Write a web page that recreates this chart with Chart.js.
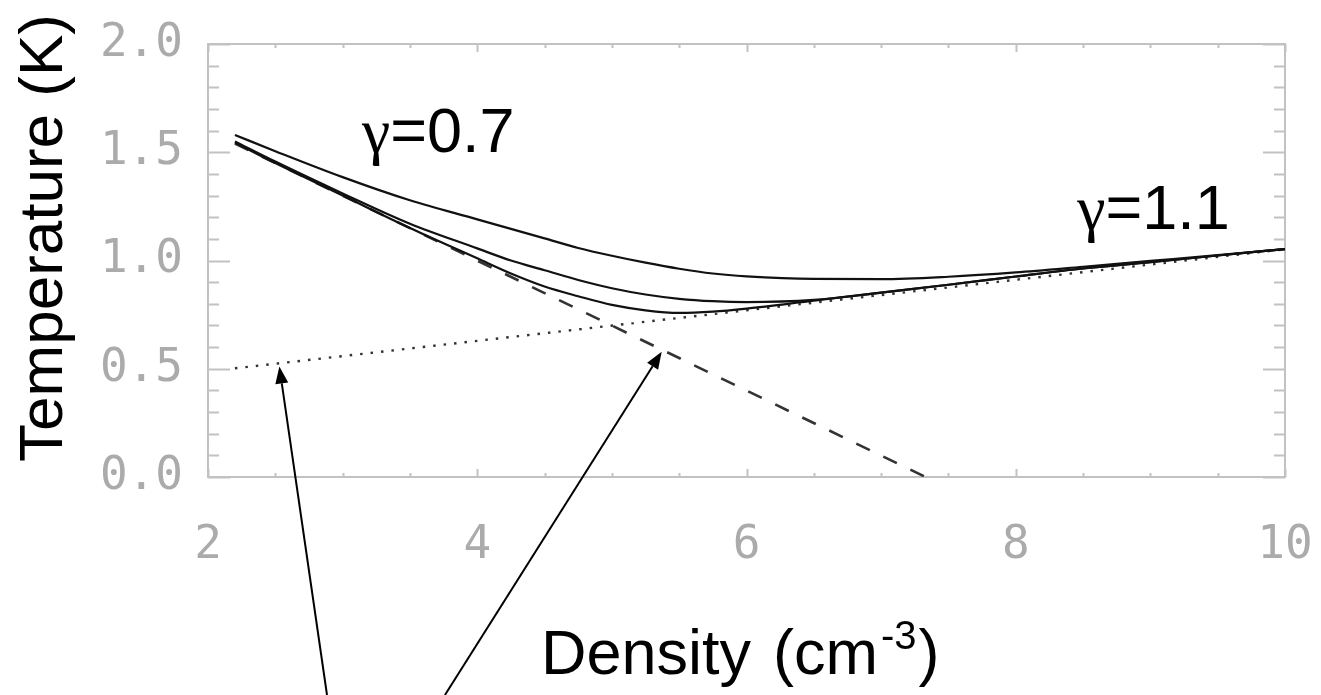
<!DOCTYPE html>
<html>
<head>
<meta charset="utf-8">
<script src="https://cdn.jsdelivr.net/npm/chart.js@4.4.0/dist/chart.umd.min.js"></script>
<style>
html, body { margin: 0; padding: 0; background: #fff; }
canvas { display: block; }
</style>
</head>
<body>
<canvas id="chart" width="1321" height="695"></canvas>
<script>
// ── data ───────────────────────────────────────────────────────────────────
const density = [2.2, 2.5, 3.0, 3.5, 4.0, 4.25, 4.5, 4.75, 5.0, 5.25, 5.5, 5.75, 6.0, 6.5, 7.0, 7.5, 8.0, 8.5, 9.0, 9.5, 10.0];
const tempUpper = [1.58, 1.505, 1.385, 1.278, 1.19, 1.146, 1.102, 1.058, 1.022, 0.99, 0.962, 0.94, 0.927, 0.915, 0.914, 0.925, 0.945, 0.971, 0.998, 1.025, 1.053];
const tempMiddle = [1.55, 1.457, 1.31, 1.17, 1.056, 1.0, 0.955, 0.91, 0.872, 0.843, 0.823, 0.812, 0.808, 0.818, 0.852, 0.888, 0.926, 0.963, 0.992, 1.023, 1.053];
const tempLower = [1.545, 1.45, 1.30, 1.15, 1.01, 0.94, 0.88, 0.835, 0.795, 0.77, 0.758, 0.764, 0.778, 0.815, 0.852, 0.888, 0.926, 0.963, 0.992, 1.023, 1.053];

// asymptotes: dotted (gamma = 1.1 branch) and dashed (gamma = 0.7 branch)
const dottedX = [2.2, 10.0];
const dottedT = [0.502, 1.052];
const dashedX = [2.2, 7.33];
const dashedT = [1.54, 0.0];

const xTickValues = [2, 4, 6, 8, 10];
const yTickValues = [0, 0.5, 1.0, 1.5, 2.0];
const yTickLabels = ['0.0', '0.5', '1.0', '1.5', '2.0'];

const xTitleParts = ['Density', '(cm', '-3', ')'];
const yTitle = 'Temperature (K)';
const gammaLow = '=0.7';
const gammaHigh = '=1.1';

// arrow tips / tails in data units (tails run off the bottom of the page)
const arrowTips = [[2.53, 0.51], [5.37, 0.578]];
const arrowTails = [[2.884, -1.007], [3.76, -1.007]];

const pts = (xs, ys) => xs.map((x, i) => ({ x: x, y: ys[i] }));

// ── frame with inward ticks (IDL look) ──────────────────────────────────────
const framePlugin = {
    id: 'frame',
    beforeDatasetsDraw(chart) {
        const { ctx, chartArea: a, scales } = chart;
        const sx = scales.x, sy = scales.y;
        ctx.save();
        ctx.strokeStyle = '#c2c2c2';
        ctx.lineWidth = 2;
        ctx.strokeRect(a.left, a.top, a.right - a.left, a.bottom - a.top);
        ctx.beginPath();
        for (let i = 0; i <= 20; i++) {
            const py = Math.round(sy.getPixelForValue(i / 10)) + 0.5;
            const len = i % 5 === 0 ? 22 : 11;
            ctx.moveTo(a.left, py); ctx.lineTo(a.left + len, py);
            ctx.moveTo(a.right, py); ctx.lineTo(a.right - len, py);
        }
        for (let i = 0; i <= 16; i++) {
            const px = Math.round(sx.getPixelForValue(2 + i * 0.5)) + 0.5;
            const len = i % 4 === 0 ? 8 : 4;
            ctx.moveTo(px, a.bottom); ctx.lineTo(px, a.bottom - len);
            ctx.moveTo(px, a.top); ctx.lineTo(px, a.top + len);
        }
        ctx.stroke();
        ctx.restore();
    },
};

// ── titles, gamma labels, arrows ───────────────────────────────────────────
function drawArrow(ctx, x0, y0, x1, y1) {
    const ang = Math.atan2(y1 - y0, x1 - x0);
    const hl = 17, hw = 6.5;
    const bx = x1 - hl * Math.cos(ang), by = y1 - hl * Math.sin(ang);
    ctx.beginPath();
    ctx.moveTo(x0, y0);
    ctx.lineTo(bx, by);
    ctx.stroke();
    ctx.beginPath();
    ctx.moveTo(x1, y1);
    ctx.lineTo(bx + hw * Math.sin(ang), by - hw * Math.cos(ang));
    ctx.lineTo(bx - hw * Math.sin(ang), by + hw * Math.cos(ang));
    ctx.closePath();
    ctx.fill();
}

function drawGamma(ctx, px, py, rest) {
    ctx.font = '64px "Liberation Serif"';
    ctx.fillText('γ', px, py);
    const w = ctx.measureText('γ').width;
    ctx.font = '63px "Liberation Sans"';
    ctx.fillText(rest, px + w, py);
}

const labelPlugin = {
    id: 'labels',
    afterDraw(chart) {
        const { ctx, scales } = chart;
        const sx = scales.x, sy = scales.y;
        ctx.save();
        ctx.fillStyle = '#000';
        ctx.strokeStyle = '#000';
        ctx.textBaseline = 'alphabetic';
        ctx.textAlign = 'left';

        drawGamma(ctx, sx.getPixelForValue(3.144), sy.getPixelForValue(1.501), gammaLow);
        drawGamma(ctx, sx.getPixelForValue(8.456), sy.getPixelForValue(1.146), gammaHigh);

        // x title with superscript, laid out left to right
        const ty = 674;
        let cx = 541;
        ctx.font = '63px "Liberation Sans"';
        ctx.fillText(xTitleParts[0], cx, ty);
        cx += ctx.measureText(xTitleParts[0]).width + 22;
        ctx.fillText(xTitleParts[1], cx, ty);
        cx += ctx.measureText(xTitleParts[1]).width + 3;
        ctx.font = '40px "Liberation Sans"';
        ctx.fillText(xTitleParts[2], cx, ty - 25);
        cx += ctx.measureText(xTitleParts[2]).width + 2;
        ctx.font = '63px "Liberation Sans"';
        ctx.fillText(xTitleParts[3], cx, ty);

        // y title, rotated
        ctx.save();
        ctx.translate(62, 238);
        ctx.rotate(-Math.PI / 2);
        ctx.textAlign = 'center';
        ctx.font = '62px "Liberation Sans"';
        ctx.fillText(yTitle, 0, 0);
        ctx.restore();

        ctx.lineWidth = 2;
        arrowTips.forEach(function (tip, i) {
            const tail = arrowTails[i];
            drawArrow(ctx,
                sx.getPixelForValue(tail[0]), sy.getPixelForValue(tail[1]),
                sx.getPixelForValue(tip[0]), sy.getPixelForValue(tip[1]));
        });
        ctx.restore();
    },
};

const tickFont = { family: '"DejaVu Sans Mono"', size: 46 };

new Chart(document.getElementById('chart'), {
    type: 'line',
    data: {
        datasets: [
            { data: pts(density, tempUpper), borderColor: '#111', borderWidth: 2.2, order: 0 },
            { data: pts(density, tempMiddle), borderColor: '#111', borderWidth: 2.2, order: 0 },
            { data: pts(density, tempLower), borderColor: '#111', borderWidth: 2.2, order: 0 },
            { data: pts(dashedX, dashedT), borderColor: '#333', borderWidth: 2.6, borderDash: [15, 15], order: 1 },
            { data: pts(dottedX, dottedT), borderColor: '#333', borderWidth: 2.4, borderDash: [2.5, 8], order: 1 },
        ],
    },
    options: {
        responsive: false,
        animation: false,
        events: [],
        layout: { padding: { left: 0, right: 36, top: 44, bottom: 0 } },
        elements: {
            point: { radius: 0 },
            line: { cubicInterpolationMode: 'monotone', fill: false },
        },
        plugins: {
            legend: { display: false },
            tooltip: { enabled: false },
        },
        scales: {
            x: {
                type: 'linear',
                min: 2,
                max: 10,
                afterFit: (s) => { s.height = 218; s.paddingLeft = 0; s.paddingRight = 0; },
                afterBuildTicks: (s) => { s.ticks = xTickValues.map((v) => ({ value: v })); },
                grid: { display: false, drawTicks: false },
                border: { display: false },
                ticks: {
                    padding: 41,
                    maxRotation: 0,
                    font: tickFont,
                    color: '#ababab',
                    callback: (v) => String(v),
                },
            },
            y: {
                type: 'linear',
                min: 0,
                max: 2,
                afterFit: (s) => { s.width = 208; s.paddingTop = 0; s.paddingBottom = 0; },
                afterBuildTicks: (s) => { s.ticks = yTickValues.map((v) => ({ value: v })); },
                grid: { display: false, drawTicks: false },
                border: { display: false },
                ticks: {
                    padding: 25,
                    font: tickFont,
                    color: '#ababab',
                    callback: (v) => yTickLabels[yTickValues.indexOf(v)],
                },
            },
        },
    },
    plugins: [framePlugin, labelPlugin],
});
</script>
</body>
</html>
